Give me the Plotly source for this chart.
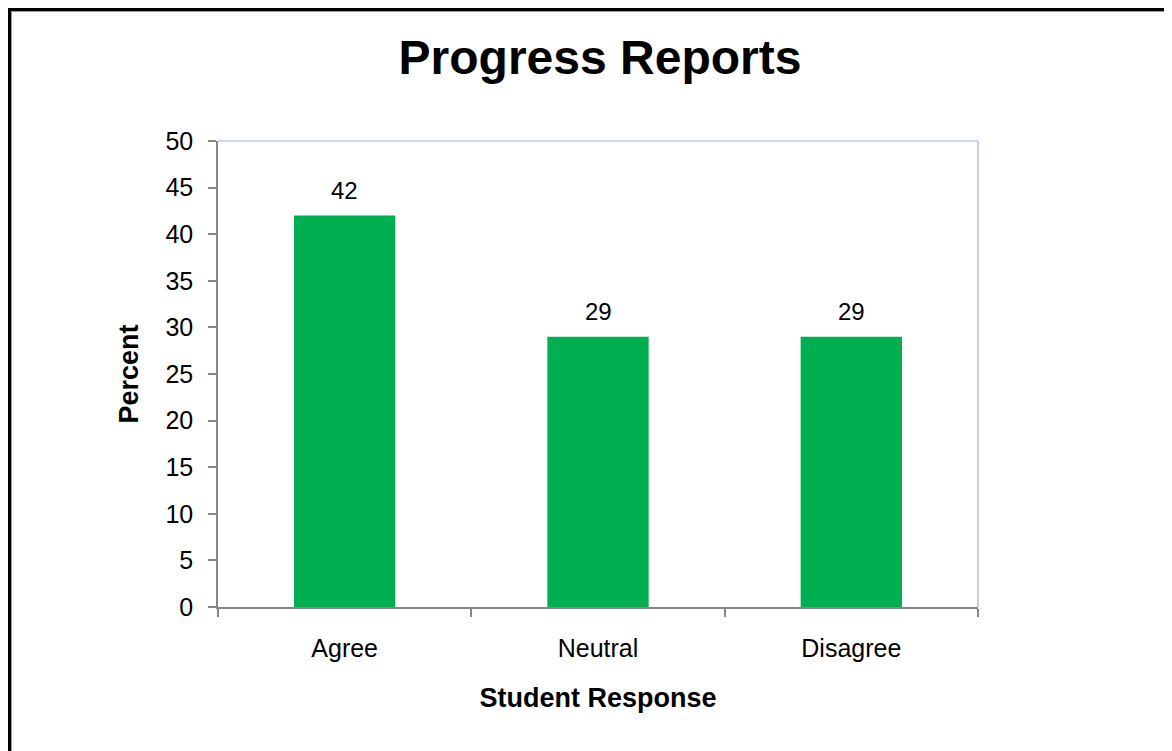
import plotly.graph_objects as go

categories = ["Agree", "Neutral", "Disagree"]
percent_values = [42, 29, 29]
y_tick_values = [0, 5, 10, 15, 20, 25, 30, 35, 40, 45, 50]

W, H = 1172, 751
L, T = 210, 133
PW, PH = 760, 466
R = W - L - PW
B = H - T - PH

def px_x(p):
    return (p - L) / PW

def px_y(p):
    return (H - B - p) / PH

FONT = "Liberation Sans, Arial, sans-serif"

fig = go.Figure()
fig.add_trace(go.Bar(
    x=categories, y=percent_values,
    marker=dict(color="#00B050", line=dict(width=0)),
    hoverinfo="skip",
))

annotations = []
for c, v in zip(categories, percent_values):
    annotations.append(dict(
        x=c, y=v, xref="x", yref="y", text=str(v), showarrow=False,
        yanchor="bottom", yshift=10,
        font=dict(family=FONT, size=24, color="#000000"),
    ))

shapes = [
    # light blue plot border (top and right)
    dict(type="line", xref="paper", yref="paper", x0=0, x1=1, y0=1, y1=1,
         line=dict(color="#95B3D7", width=1.2), layer="below"),
    dict(type="line", xref="paper", yref="paper", x0=1, x1=1, y0=0, y1=1,
         line=dict(color="#95B3D7", width=1.2), layer="below"),
    # outer black frame (top and left)
    dict(type="line", xref="paper", yref="paper",
         x0=px_x(0), x1=px_x(1190), y0=px_y(1.5), y1=px_y(1.5),
         line=dict(color="#000000", width=3)),
    dict(type="line", xref="paper", yref="paper",
         x0=px_x(1.5), x1=px_x(1.5), y0=px_y(0), y1=px_y(770),
         line=dict(color="#000000", width=3)),
    dict(type="line", xref="paper", yref="paper",
         x0=px_x(3), x1=px_x(1190), y0=px_y(3.5), y1=px_y(3.5),
         line=dict(color="#9a9a9a", width=1)),
    dict(type="line", xref="paper", yref="paper",
         x0=px_x(3.5), x1=px_x(3.5), y0=px_y(3), y1=px_y(770),
         line=dict(color="#9a9a9a", width=1)),
]

fig.update_layout(
    width=W, height=H,
    margin=dict(l=L, r=R, t=T, b=B, pad=0),
    paper_bgcolor="#FFFFFF", plot_bgcolor="#FFFFFF",
    bargap=0.6,
    showlegend=False,
    title=dict(text="<b>Progress Reports</b>", x=px_x(592), xanchor="center",
               xref="paper",
               y=1 - 49 / H, yanchor="middle",
               font=dict(family=FONT, size=48, color="#000000")),
    xaxis=dict(
        type="category", tickson="boundaries",
        showline=True, linecolor="#868686", linewidth=1.5,
        ticks="outside", ticklen=8, tickcolor="#868686", tickwidth=1.5,
        showgrid=False, zeroline=False,
        tickfont=dict(family=FONT, size=25, color="#000000"),
        ticklabelstandoff=18,
        title=dict(text="<b>Student Response</b>",
                   font=dict(family=FONT, size=27, color="#000000"), standoff=27),
    ),
    yaxis=dict(
        range=[0, 50], tickvals=y_tick_values,
        showline=True, linecolor="#868686", linewidth=1.5,
        ticks="outside", ticklen=8, tickcolor="#868686", tickwidth=1.5,
        showgrid=False, zeroline=False,
        tickfont=dict(family=FONT, size=25, color="#000000"),
        ticklabelstandoff=10,
        title=dict(text="<b>Percent</b>",
                   font=dict(family=FONT, size=27, color="#000000"), standoff=19),
    ),
    annotations=annotations,
    shapes=shapes,
)

fig.write_html("out.html")
